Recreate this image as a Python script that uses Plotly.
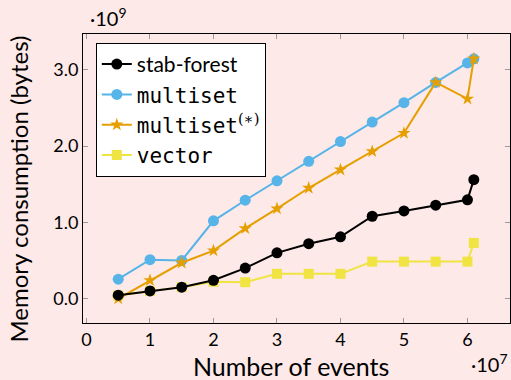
import plotly.graph_objects as go

# events in units of 1e7, memory in units of 1e9 bytes
events = [0.5, 1.0, 1.5, 2.0, 2.5, 3.0, 3.5, 4.0, 4.5, 5.0, 5.5, 6.0, 6.1]
stab_forest = [0.045, 0.10, 0.15, 0.24, 0.40, 0.60, 0.72, 0.81, 1.08, 1.15, 1.225, 1.295, 1.56]
multiset = [0.255, 0.51, 0.50, 1.02, 1.29, 1.545, 1.80, 2.06, 2.315, 2.57, 2.835, 3.09, 3.145]
multiset_star = [0.0, 0.24, 0.47, 0.63, 0.92, 1.18, 1.45, 1.69, 1.93, 2.17, 2.835, 2.62, 3.145]
vector = [0.04, 0.10, 0.15, 0.22, 0.215, 0.325, 0.325, 0.325, 0.485, 0.485, 0.485, 0.485, 0.73]

x_ticks = [0, 1, 2, 3, 4, 5, 6]
y_ticks = [0.0, 1.0, 2.0, 3.0]

BG = "#fde9e8"
SANS = "Lato"
MONO = "DejaVu Sans Mono"

fig = go.Figure()

def add(name, ys, color, symbol, size, rank):
    fig.add_trace(go.Scatter(
        x=events, y=ys, mode="lines+markers", name=name, legendrank=rank,
        line=dict(color=color, width=2),
        marker=dict(color=color, symbol=symbol, size=size, line=dict(width=0)),
    ))

mono = lambda s: f"<span style='font-family:{MONO};font-size:21px'>{s}</span>"

add(mono("vector"), vector, "#F0E442", "square", 10, 4)
add(mono("multiset"), multiset, "#56B4E9", "circle", 11, 2)
add(mono("multiset") + "<sup><span style='font-family:DejaVu Serif'>(∗)</span></sup>",
    multiset_star, "#E69F00", "star", 10, 3)
add("stab-forest", stab_forest, "#000000", "circle", 11, 1)

axis_common = dict(
    showline=True, linecolor="black", linewidth=1, mirror="allticks",
    ticks="inside", ticklen=5, tickcolor="#999999", tickwidth=1,
    showgrid=False, zeroline=False,
    tickfont=dict(family=SANS, size=18, color="black"),
)

fig.update_xaxes(range=[-0.055, 6.67], tickvals=x_ticks,
                 ticktext=[str(v) for v in x_ticks], **axis_common)
fig.update_yaxes(range=[-0.32, 3.47], tickvals=y_ticks,
                 ticktext=[f"{v:.1f}" for v in y_ticks], **axis_common)

fig.update_layout(
    width=511, height=380,
    margin=dict(l=83, r=1, t=34, b=57, pad=0),
    paper_bgcolor=BG, plot_bgcolor=BG,
    font=dict(family=SANS, color="black"),
    legend=dict(
        x=0.03, y=0.969, xanchor="left", yanchor="top",
        bgcolor="white", bordercolor="black", borderwidth=1,
        font=dict(family=SANS, size=21, color="black"),
        tracegroupgap=0, itemwidth=30,
    ),
    showlegend=True,
    annotations=[
        dict(text="Number of events", xref="paper", yref="paper",
             x=0.487, y=-0.15, xanchor="center", yanchor="middle",
             showarrow=False, font=dict(family=SANS, size=25)),
        dict(text="Memory consumption (bytes)", xref="paper", yref="paper",
             x=-0.15, y=0.465, xanchor="center", yanchor="middle",
             textangle=-90, showarrow=False, font=dict(family=SANS, size=24)),
        dict(text="·10<sup>9</sup>", xref="paper", yref="paper",
             x=0.012, y=1.06, xanchor="left", yanchor="middle",
             showarrow=False, font=dict(family=SANS, size=20)),
        dict(text="·10<sup>7</sup>", xref="paper", yref="paper",
             x=1.0, y=-0.14, xanchor="right", yanchor="middle",
             showarrow=False, font=dict(family=SANS, size=20)),
    ],
)

fig.write_html("out.html")
